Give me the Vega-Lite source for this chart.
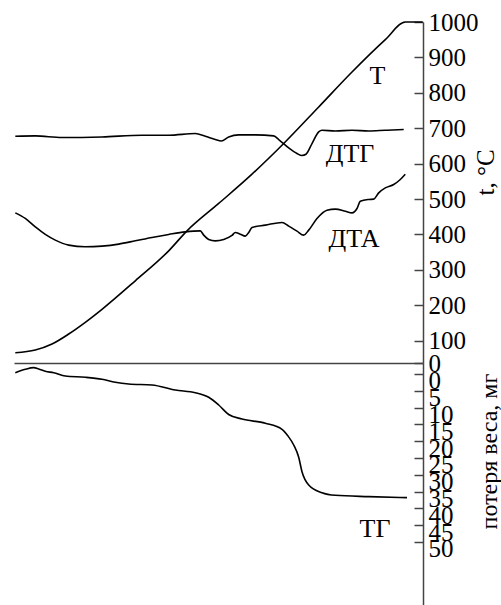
{
  "$schema": "https://vega.github.io/schema/vega-lite/v6.json",
  "padding": {"left": 12, "top": 10, "right": 0, "bottom": 0},
  "spacing": 0,
  "bounds": "flush",
  "config": {
    "view": {"stroke": null},
    "font": "Liberation Serif",
    "axis": {"grid": false, "domainColor": "#444", "domainWidth": 1.5, "tickColor": "#444", "tickWidth": 1.5, "labelColor": "black", "titleColor": "black", "labelFont": "Liberation Serif", "titleFont": "Liberation Serif", "labelFontSize": 25, "titleFontSize": 25, "titleFontWeight": "normal", "labelOverlap": false, "labelBound": false, "labelFlush": false}
  },
  "datasets": {
    "upper": [
      {"s": "T", "x": 1.3, "v": 66.0}, {"s": "T", "x": 21.3, "v": 73.6}, {"s": "T", "x": 38, "v": 90.6}, {"s": "T", "x": 54.7, "v": 118.8}, {"s": "T", "x": 71.3, "v": 151.8}, {"s": "T", "x": 88, "v": 188.5}, {"s": "T", "x": 121.3, "v": 269.2}, {"s": "T", "x": 154.7, "v": 353.8}, {"s": "T", "x": 173, "v": 410.2}, {"s": "T", "x": 204.7, "v": 487.5}, {"s": "T", "x": 238, "v": 570.2}, {"s": "T", "x": 269.7, "v": 656.8}, {"s": "T", "x": 304.7, "v": 760.1}, {"s": "T", "x": 338, "v": 858.8}, {"s": "T", "x": 371.3, "v": 950.2}, {"s": "T", "x": 391.3, "v": 1000}, {"s": "T", "x": 408.7, "v": 1000},
      {"s": "DTG", "x": 1.3, "v": 677.4}, {"s": "DTG", "x": 21.3, "v": 678.3}, {"s": "DTG", "x": 48, "v": 673.7}, {"s": "DTG", "x": 88, "v": 675.4}, {"s": "DTG", "x": 128, "v": 680.2}, {"s": "DTG", "x": 154.7, "v": 680.2}, {"s": "DTG", "x": 181.3, "v": 685.0}, {"s": "DTG", "x": 191.3, "v": 677.4}, {"s": "DTG", "x": 201.3, "v": 668.1}, {"s": "DTG", "x": 207.3, "v": 664.1}, {"s": "DTG", "x": 214.7, "v": 675.4}, {"s": "DTG", "x": 224.7, "v": 681.1}, {"s": "DTG", "x": 241.3, "v": 681.1}, {"s": "DTG", "x": 259.7, "v": 678.3}, {"s": "DTG", "x": 264.7, "v": 668.1}, {"s": "DTG", "x": 274.7, "v": 644.4}, {"s": "DTG", "x": 283, "v": 628.6}, {"s": "DTG", "x": 288, "v": 623.0}, {"s": "DTG", "x": 292, "v": 626.6}, {"s": "DTG", "x": 298, "v": 656.8}, {"s": "DTG", "x": 304.7, "v": 689.5}, {"s": "DTG", "x": 308, "v": 694.3}, {"s": "DTG", "x": 321.3, "v": 692.3}, {"s": "DTG", "x": 338, "v": 694.3}, {"s": "DTG", "x": 354.7, "v": 692.3}, {"s": "DTG", "x": 371.3, "v": 694.3}, {"s": "DTG", "x": 389.7, "v": 696.3},
      {"s": "DTA", "x": 1.3, "v": 461.0}, {"s": "DTA", "x": 11.3, "v": 445.2}, {"s": "DTA", "x": 21.3, "v": 421.5}, {"s": "DTA", "x": 31.3, "v": 400.1}, {"s": "DTA", "x": 41.3, "v": 384.0}, {"s": "DTA", "x": 54.7, "v": 369.9}, {"s": "DTA", "x": 71.3, "v": 365.1}, {"s": "DTA", "x": 88, "v": 367.1}, {"s": "DTA", "x": 104.7, "v": 372.7}, {"s": "DTA", "x": 121.3, "v": 382.0}, {"s": "DTA", "x": 138, "v": 391.6}, {"s": "DTA", "x": 154.7, "v": 400.1}, {"s": "DTA", "x": 171.3, "v": 407.4}, {"s": "DTA", "x": 186.3, "v": 410.2}, {"s": "DTA", "x": 189.7, "v": 398.1}, {"s": "DTA", "x": 194.7, "v": 386.0}, {"s": "DTA", "x": 201.3, "v": 382.0}, {"s": "DTA", "x": 209.7, "v": 386.0}, {"s": "DTA", "x": 218, "v": 397.2}, {"s": "DTA", "x": 221.3, "v": 405.7}, {"s": "DTA", "x": 226.3, "v": 400.9}, {"s": "DTA", "x": 231.3, "v": 395.3}, {"s": "DTA", "x": 234.7, "v": 405.7}, {"s": "DTA", "x": 238, "v": 419.8}, {"s": "DTA", "x": 251.3, "v": 426.3}, {"s": "DTA", "x": 268, "v": 433.9}, {"s": "DTA", "x": 274.7, "v": 423.5}, {"s": "DTA", "x": 283, "v": 409.4}, {"s": "DTA", "x": 289.7, "v": 398.1}, {"s": "DTA", "x": 294.7, "v": 412.2}, {"s": "DTA", "x": 303, "v": 445.2}, {"s": "DTA", "x": 313, "v": 468.6}, {"s": "DTA", "x": 321.3, "v": 471.5}, {"s": "DTA", "x": 331.3, "v": 465.8}, {"s": "DTA", "x": 338, "v": 461.0}, {"s": "DTA", "x": 343, "v": 473.4}, {"s": "DTA", "x": 346.3, "v": 494.0}, {"s": "DTA", "x": 354.7, "v": 498.8}, {"s": "DTA", "x": 359.7, "v": 499.7}, {"s": "DTA", "x": 364.7, "v": 517.4}, {"s": "DTA", "x": 371.3, "v": 531.5}, {"s": "DTA", "x": 379.7, "v": 541.1}, {"s": "DTA", "x": 386.3, "v": 555.2}, {"s": "DTA", "x": 391.3, "v": 570.2}
    ],
    "upperLabels": [
      {"label": "Т", "x": 363.5, "v": 846.7},
      {"label": "ДТГ", "x": 336, "v": 626.5},
      {"label": "ДТА", "x": 340, "v": 388.0}
    ],
    "lower": [
      {"x": 1.3, "w": -0.39}, {"x": 11.3, "w": -1.4}, {"x": 19.7, "w": -1.88}, {"x": 24.7, "w": -1.49}, {"x": 31.3, "w": -0.8}, {"x": 39.7, "w": -0.39}, {"x": 51.3, "w": 0.6}, {"x": 71.3, "w": 0.98}, {"x": 88, "w": 1.58}, {"x": 101.3, "w": 2.47}, {"x": 114.7, "w": 2.98}, {"x": 138, "w": 3.27}, {"x": 161.3, "w": 4.76}, {"x": 181.3, "w": 5.57}, {"x": 194.7, "w": 6.93}, {"x": 204.7, "w": 9.23}, {"x": 214.7, "w": 12.05}, {"x": 228, "w": 13.39}, {"x": 251.3, "w": 14.67}, {"x": 268, "w": 16.46}, {"x": 274, "w": 18.45}, {"x": 279.7, "w": 21.13}, {"x": 284.7, "w": 24.79}, {"x": 288, "w": 29.08}, {"x": 294.7, "w": 33.04}, {"x": 308, "w": 35.33}, {"x": 321.3, "w": 36.1}, {"x": 354.7, "w": 36.5}, {"x": 393, "w": 36.8}
    ],
    "lowerLabels": [
      {"label": "ТГ", "x": 361, "w": 46.0}
    ]
  },
  "vconcat": [
    {
      "width": 409,
      "height": 341,
      "layer": [
        {
          "data": {"name": "upper"},
          "mark": {"type": "line", "color": "black", "strokeWidth": 1.6, "interpolate": "monotone"},
          "encoding": {
            "x": {"field": "x", "type": "quantitative", "scale": {"domain": [0, 409], "nice": false}, "axis": {"orient": "bottom", "ticks": false, "labels": false, "title": null, "domainColor": "#444", "domainWidth": 1.5}},
            "y": {"field": "v", "type": "quantitative", "scale": {"domain": [37, 1000], "nice": false, "zero": false}, "axis": {"orient": "right", "values": [37, 100, 200, 300, 400, 500, 600, 700, 800, 900, 1000], "tickCount": 30, "format": "d", "labelExpr": "datum.value < 50 ? '0' : datum.label", "labelOverlap": false, "tickSize": -9, "labelPadding": 14, "title": "t, °C", "titleAngle": 270, "titleX": 62, "titleY": 150, "titleAlign": "center", "titleBaseline": "middle"}},
            "detail": {"field": "s", "type": "nominal"}
          }
        },
        {
          "data": {"name": "upperLabels"},
          "mark": {"type": "text", "font": "Liberation Serif", "fontSize": 26, "align": "center", "baseline": "middle", "color": "black"},
          "encoding": {
            "x": {"field": "x", "type": "quantitative"},
            "y": {"field": "v", "type": "quantitative"},
            "text": {"field": "label", "type": "nominal"}
          }
        }
      ]
    },
    {
      "width": 409,
      "height": 242,
      "layer": [
        {
          "data": {"name": "lower"},
          "mark": {"type": "line", "color": "black", "strokeWidth": 1.6, "interpolate": "monotone"},
          "encoding": {
            "x": {"field": "x", "type": "quantitative", "scale": {"domain": [0, 409], "nice": false}, "axis": null},
            "y": {"field": "w", "type": "quantitative", "scale": {"domain": [-3.27, 68.75], "nice": false, "zero": false, "reverse": true}, "axis": {"orient": "right", "values": [0, 5, 10, 15, 20, 25, 30, 35, 40, 45, 50], "tickCount": 30, "format": "d", "labelOverlap": false, "tickSize": -9, "labelPadding": 14, "labelOffset": 7, "title": "потеря веса, мг", "titleFontSize": 24, "titleAngle": 270, "titleX": 66, "titleY": 88, "titleAlign": "center", "titleBaseline": "middle"}}
          }
        },
        {
          "data": {"name": "lowerLabels"},
          "mark": {"type": "text", "font": "Liberation Serif", "fontSize": 26, "align": "center", "baseline": "middle", "color": "black"},
          "encoding": {
            "x": {"field": "x", "type": "quantitative"},
            "y": {"field": "w", "type": "quantitative"},
            "text": {"field": "label", "type": "nominal"}
          }
        }
      ]
    }
  ]
}
